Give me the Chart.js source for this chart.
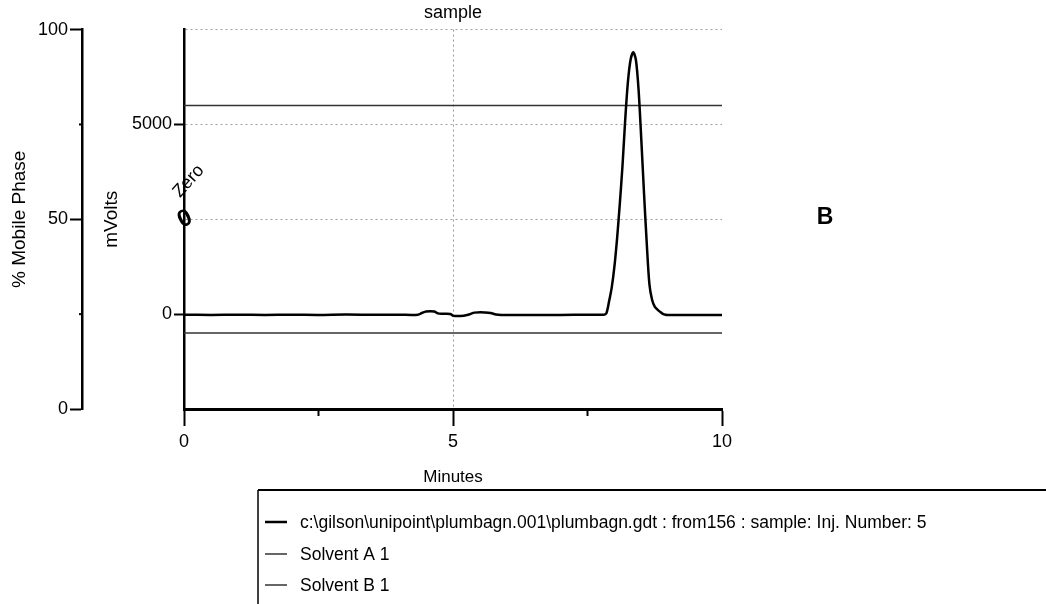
<!DOCTYPE html>
<html>
<head>
<meta charset="utf-8">
<script src="https://cdn.jsdelivr.net/npm/chart.js@4.4.1/dist/chart.umd.min.js"></script>
<style>
  html, body { margin: 0; padding: 0; background: #fff; }
  #wrap { width: 1046px; height: 604px; }
</style>
</head>
<body>
<div id="wrap"><canvas id="chrom" width="1046" height="604"></canvas></div>
<script>
// detector trace (minutes / mV)
var traceTime = [0, 0.5, 1, 1.5, 2, 2.5, 3, 3.5, 4, 4.35, 4.42, 4.5, 4.65, 4.72, 4.8, 4.95, 5, 5.2, 5.3, 5.4, 5.6, 5.7, 5.8, 5.9, 6.5, 7, 7.5, 7.8,
  7.85, 7.9, 7.95, 8, 8.05, 8.1, 8.15, 8.2, 8.25, 8.3, 8.35, 8.4, 8.45, 8.5, 8.55, 8.6, 8.65, 8.7, 8.75, 8.8, 8.85, 8.9, 8.95, 9, 9.5, 10];
var traceMv = [-15, -20, -15, -20, -15, -20, -10, -15, -15, -15, 30, 70, 70, 20, 10, 5, -40, -40, -10, 40, 45, 30, -10, -20, -20, -20, -15, -15,
  20, 330, 700, 1250, 2000, 2900, 3900, 5100, 6100, 6700, 6900, 6700, 5900, 4600, 3200, 1900, 800, 380, 200, 120, 60, 10, -15, -20, -25, -25];

// solvent programme (% mobile phase)
var solventTime = [0, 10];
var solventA = [80, 80];
var solventB = [20, 20];

var traceLabel = 'c:\\gilson\\unipoint\\plumbagn.001\\plumbagn.gdt : from156 : sample: Inj. Number: 5';
var xTicks = [0, 2.5, 5, 7.5, 10];
var mvTicks = [0, 5000];
var pctTicks = [0, 25, 50, 75, 100];

var FONT = '"Liberation Sans", Arial, sans-serif';
Chart.defaults.font.family = FONT;
Chart.defaults.color = '#000';

function pairs(xs, ys) {
  return xs.map(function (x, i) { return { x: x, y: ys[i] }; });
}

var extras = {
  id: 'extras',
  afterDraw: function (chart) {
    var ctx = chart.ctx;
    var xs = chart.scales.x, pct = chart.scales.pct;
    var area = chart.chartArea;
    ctx.save();
    ctx.strokeStyle = '#000';

    // minor ticks
    ctx.lineWidth = 2;
    [2.5, 7.5].forEach(function (v) {
      var px = xs.getPixelForValue(v);
      ctx.beginPath(); ctx.moveTo(px, area.bottom); ctx.lineTo(px, area.bottom + 7); ctx.stroke();
    });
    [25, 75].forEach(function (v) {
      var py = pct.getPixelForValue(v);
      ctx.beginPath(); ctx.moveTo(pct.right - 3, py); ctx.lineTo(pct.right, py); ctx.stroke();
    });

    // zero marker
    var zx = xs.getPixelForValue(0), zy = pct.getPixelForValue(50);
    ctx.fillStyle = '#000';
    ctx.save();
    ctx.translate(zx + 1, zy);
    ctx.rotate(-25 * Math.PI / 180);
    ctx.font = 'bold 24px ' + FONT;
    ctx.textAlign = 'center';
    ctx.textBaseline = 'middle';
    ctx.fillText('0', 0, 0);
    ctx.restore();
    ctx.save();
    ctx.translate(zx - 4, zy - 21);
    ctx.rotate(-48 * Math.PI / 180);
    ctx.font = '18px ' + FONT;
    ctx.textAlign = 'left';
    ctx.textBaseline = 'alphabetic';
    ctx.fillText('Zero', 0, 0);
    ctx.restore();

    // panel letter
    ctx.font = 'bold 23px ' + FONT;
    ctx.textAlign = 'center';
    ctx.textBaseline = 'middle';
    ctx.fillText('B', 825, 218);

    // legend box
    ctx.strokeStyle = '#000';
    ctx.lineWidth = 2;
    ctx.beginPath(); ctx.moveTo(258, 490); ctx.lineTo(1046, 490); ctx.stroke();
    ctx.lineWidth = 1.5;
    ctx.beginPath(); ctx.moveTo(258, 490); ctx.lineTo(258, 604); ctx.stroke();
    var rows = [522, 554, 585];
    ctx.font = '17.5px ' + FONT;
    ctx.textAlign = 'left';
    ctx.textBaseline = 'middle';
    chart.data.datasets.forEach(function (ds, i) {
      ctx.strokeStyle = ds.borderColor;
      ctx.lineWidth = ds.borderWidth;
      ctx.beginPath(); ctx.moveTo(265, rows[i]); ctx.lineTo(287, rows[i]); ctx.stroke();
      ctx.fillText(ds.label, 300, rows[i] + 1);
    });
    ctx.restore();
  }
};

var chart = new Chart(document.getElementById('chrom'), {
  type: 'line',
  data: {
    datasets: [{
      label: traceLabel,
      data: pairs(traceTime, traceMv),
      yAxisID: 'mv',
      borderColor: '#000',
      borderWidth: 2.5,
      pointRadius: 0,
      tension: 0.3
    }, {
      label: 'Solvent A 1',
      data: pairs(solventTime, solventA),
      yAxisID: 'pct',
      borderColor: '#333',
      borderWidth: 1.5,
      pointRadius: 0
    }, {
      label: 'Solvent B 1',
      data: pairs(solventTime, solventB),
      yAxisID: 'pct',
      borderColor: '#333',
      borderWidth: 1.5,
      pointRadius: 0
    }]
  },
  options: {
    responsive: false,
    animation: false,
    layout: { padding: { left: 0, right: 324, top: 0, bottom: 114 } },
    plugins: {
      legend: { display: false },
      tooltip: { enabled: false },
      title: {
        display: true,
        text: 'sample',
        fullSize: false,
        color: '#000',
        font: { size: 18, weight: 'normal' },
        padding: { top: 2, bottom: 6 }
      }
    },
    scales: {
      x: {
        type: 'linear',
        position: 'bottom',
        min: 0,
        max: 10,
        afterBuildTicks: function (s) { s.ticks = xTicks.map(function (v) { return { value: v }; }); },
        afterFit: function (s) { s.height = 81; },
        ticks: {
          autoSkip: false,
          maxRotation: 0,
          padding: 5,
          font: { size: 18 },
          callback: function (v) { return v % 5 === 0 ? String(v) : ''; }
        },
        grid: {
          color: function (c) { return c.tick && c.tick.value === 5 ? '#9a9a9a' : 'rgba(0,0,0,0)'; },
          lineWidth: 1,
          tickLength: 17,
          tickWidth: 2,
          tickColor: function (c) { return c.tick && c.tick.value % 5 === 0 ? '#000' : 'rgba(0,0,0,0)'; }
        },
        border: { color: '#000', width: 3, dash: [2, 3] },
        title: { display: true, text: 'Minutes', font: { size: 17 }, padding: { top: 0, bottom: 2 } }
      },
      mv: {
        type: 'linear',
        position: 'left',
        weight: 0,
        min: -2500,
        max: 7500,
        afterBuildTicks: function (s) { s.ticks = mvTicks.map(function (v) { return { value: v }; }); },
        afterFit: function (s) { s.width = 102; },
        ticks: { padding: 2, font: { size: 18 }, callback: function (v) { return String(v); } },
        grid: { drawOnChartArea: false, tickLength: 10, tickWidth: 2, tickColor: '#000' },
        border: { color: '#000', width: 2.5 },
        title: { display: true, text: 'mVolts', font: { size: 19 }, padding: { top: 18, bottom: 0 } }
      },
      pct: {
        type: 'linear',
        position: 'left',
        weight: 1,
        min: 0,
        max: 100,
        afterBuildTicks: function (s) { s.ticks = pctTicks.map(function (v) { return { value: v }; }); },
        afterFit: function (s) { s.width = 82; },
        ticks: {
          padding: 2,
          font: { size: 18 },
          callback: function (v) { return v % 50 === 0 ? String(v) : ''; }
        },
        grid: {
          color: function (c) { return c.tick && c.tick.value >= 50 ? '#a0a0a0' : 'rgba(0,0,0,0)'; },
          lineWidth: 1,
          tickLength: 12,
          tickWidth: 2,
          tickColor: function (c) { return c.tick && c.tick.value % 50 === 0 ? '#000' : 'rgba(0,0,0,0)'; }
        },
        border: { color: '#000', width: 2.5, dash: [2, 3] },
        title: { display: true, text: '% Mobile Phase', font: { size: 19 }, padding: { top: 8, bottom: 0 } }
      }
    }
  },
  plugins: [extras]
});
</script>
</body>
</html>
